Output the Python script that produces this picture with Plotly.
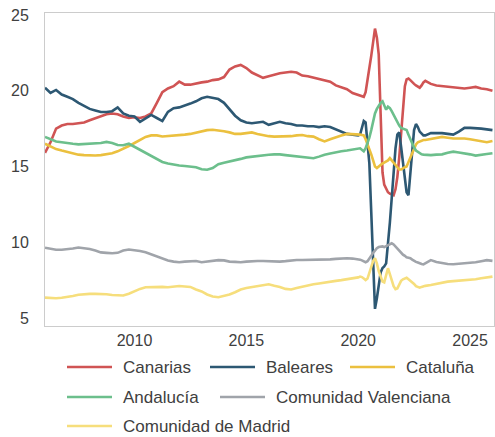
import pandas as pd
import plotly.graph_objects as go

# fechas: trimestral hasta 2019, mensual 2020-2022, trimestral después
fechas = (list(pd.date_range("2006-01-01", "2019-10-01", freq="QS"))
          + list(pd.date_range("2020-01-01", "2022-12-01", freq="MS"))
          + list(pd.date_range("2023-01-01", "2026-01-01", freq="QS")))

canarias = [15.9, 16.6, 17.5, 17.7, 17.8, 17.8, 17.85, 17.9, 18.05, 18.2, 18.35, 18.45,
            18.5, 18.45, 18.3, 18.2, 18.25, 18.2, 18.3, 18.5, 19.2, 19.9, 20.15, 20.3,
            20.6, 20.4, 20.4, 20.45, 20.55, 20.6, 20.7, 20.75, 20.9, 21.4, 21.6, 21.7,
            21.5, 21.2, 21.0, 20.85, 20.95, 21.05, 21.15, 21.2, 21.25, 21.2, 21.0, 20.95,
            20.85, 20.75, 20.65, 20.6, 20.35, 20.2, 20.1, 19.85,
            19.75, 19.7, 19.65, 19.6, 19.9, 20.6, 21.5, 22.3, 23.2, 24.1, 23.5, 22.4,
            18.5, 14.6, 13.8, 13.5, 13.3, 13.2, 13.15, 13.1, 13.5, 14.3, 15.6, 17.3,
            19.0, 20.3, 20.75, 20.8, 20.7, 20.55, 20.45, 20.35, 20.25, 20.2, 20.35, 20.55,
            20.65, 20.45, 20.35, 20.3, 20.25, 20.2, 20.15, 20.15, 20.2, 20.25, 20.15, 20.1, 20.0]

baleares = [20.2, 19.85, 20.05, 19.75, 19.6, 19.45, 19.2, 19.0, 18.8, 18.7, 18.6, 18.6,
            18.65, 18.9, 18.5, 18.35, 18.3, 17.95, 18.15, 18.4, 18.2, 18.0, 18.6, 18.85,
            18.9, 19.0, 19.15, 19.3, 19.5, 19.6, 19.55, 19.45, 19.2, 18.75, 18.35, 18.05,
            17.9, 17.85, 17.9, 17.95, 17.75, 17.85, 17.95, 17.85, 17.8, 17.7, 17.7, 17.65,
            17.65, 17.6, 17.65, 17.6, 17.45, 17.35, 17.15, 17.1,
            17.05, 17.1, 17.5, 18.0, 17.9, 16.7, 15.2, 12.0, 8.5, 5.6, 6.3, 7.3,
            8.0, 8.3, 8.4, 8.6, 9.8, 11.3, 12.9, 14.6, 16.2, 17.1, 17.25, 16.3,
            15.3, 14.0, 13.3, 13.1, 14.6, 16.3, 17.4, 17.8, 17.6, 17.3, 17.15, 17.05,
            17.05, 17.2, 17.2, 17.2, 17.15, 17.1, 17.3, 17.55, 17.55, 17.55, 17.5, 17.45, 17.4]

cataluna = [16.5, 16.3, 16.15, 16.05, 15.95, 15.85, 15.78, 15.75, 15.72, 15.72, 15.75, 15.8,
            15.87, 16.0, 16.15, 16.35, 16.55, 16.75, 16.95, 17.05, 17.05, 16.98, 17.0, 17.05,
            17.08, 17.1, 17.15, 17.25, 17.35, 17.4, 17.42, 17.38, 17.32, 17.25, 17.15, 17.15,
            17.2, 17.25, 17.15, 17.05, 17.0, 16.97, 16.97, 16.97, 17.0, 17.05, 17.08, 17.0,
            16.97, 16.8, 16.65, 16.8, 16.95, 17.05, 17.15, 17.15,
            17.12, 17.1, 17.08, 17.05, 16.8, 16.5, 16.1, 15.8, 15.4, 15.0, 14.9, 15.0,
            15.15, 15.2, 15.25, 15.3, 15.4, 15.55, 15.4, 15.2, 15.05, 14.9, 14.8, 14.8,
            14.9, 14.95, 15.0, 15.3, 15.6, 15.9, 16.2, 16.45, 16.6, 16.65, 16.7, 16.75,
            16.75, 16.8, 16.9, 16.95, 16.9, 16.85, 16.85, 16.85, 16.8, 16.75, 16.65, 16.6, 16.68]

andalucia = [16.95, 16.8, 16.65, 16.6, 16.57, 16.5, 16.46, 16.48, 16.52, 16.53, 16.55, 16.62,
             16.55, 16.42, 16.4, 16.5, 16.3, 16.1, 15.87, 15.7, 15.5, 15.3, 15.2, 15.12,
             15.06, 15.03, 15.0, 14.95, 14.82, 14.78, 14.9, 15.15, 15.25, 15.32, 15.4, 15.5,
             15.6, 15.65, 15.7, 15.75, 15.77, 15.8, 15.8, 15.75, 15.7, 15.65, 15.6, 15.56,
             15.54, 15.65, 15.78, 15.85, 15.95, 16.0, 16.05, 16.1,
             16.15, 16.2, 16.1, 16.0, 16.2, 16.5, 16.9, 17.4, 18.1, 18.5, 18.8, 19.05,
             19.2, 19.3, 19.0, 18.75, 18.95, 18.85, 18.65, 18.4, 18.15, 17.9, 17.7, 17.55,
             17.5, 17.45, 17.4, 17.1, 16.8, 16.5, 16.25, 16.05, 15.95, 15.85, 15.8, 15.78,
             15.76, 15.75, 15.78, 15.8, 15.9, 15.98, 15.92, 15.87, 15.8, 15.72, 15.75, 15.82, 15.87]

valenciana = [9.64, 9.55, 9.5, 9.5, 9.53, 9.58, 9.65, 9.62, 9.55, 9.45, 9.33, 9.3,
              9.27, 9.3, 9.45, 9.52, 9.49, 9.42, 9.34, 9.2, 9.05, 8.92, 8.8, 8.72,
              8.68, 8.72, 8.74, 8.76, 8.68, 8.72, 8.78, 8.82, 8.8, 8.72, 8.7, 8.68,
              8.72, 8.76, 8.76, 8.76, 8.74, 8.73, 8.72, 8.75, 8.8, 8.83, 8.83, 8.83,
              8.83, 8.84, 8.86, 8.87, 8.9, 8.93, 8.94, 8.92,
              8.9, 8.85, 8.8, 8.72, 8.68, 8.75, 8.9, 9.1, 9.3, 9.48, 9.6, 9.68,
              9.7, 9.72, 9.68, 9.74, 9.8, 9.88, 9.93, 9.85, 9.7, 9.58, 9.45, 9.3,
              9.18, 9.1, 9.0, 8.97, 8.94, 8.85, 8.76, 8.7, 8.66, 8.6, 8.56, 8.54,
              8.62, 8.82, 8.7, 8.62, 8.56, 8.55, 8.58, 8.6, 8.63, 8.68, 8.75, 8.82, 8.77]

madrid = [6.34, 6.32, 6.3, 6.33, 6.38, 6.45, 6.53, 6.57, 6.59, 6.59, 6.59, 6.57,
          6.52, 6.5, 6.48, 6.6, 6.78, 6.92, 7.03, 7.05, 7.07, 7.05, 7.03, 7.08,
          7.11, 7.08, 7.05, 6.88, 6.75, 6.55, 6.42, 6.37, 6.45, 6.55, 6.7, 6.88,
          6.98, 7.05, 7.12, 7.18, 7.22, 7.12, 7.05, 6.92, 6.88, 6.98, 7.07, 7.12,
          7.22, 7.28, 7.35, 7.4, 7.45, 7.5, 7.55, 7.62,
          7.68, 7.73, 7.7, 7.6, 7.5, 7.6, 8.0, 8.5, 8.75, 8.95, 8.6, 8.1,
          7.8, 7.4, 7.35, 7.9, 8.28, 7.9, 7.45, 7.1, 6.9, 6.95, 7.2, 7.45,
          7.55, 7.62, 7.65, 7.55, 7.45, 7.38, 7.25, 7.1, 7.02, 7.0, 7.05, 7.1,
          7.12, 7.18, 7.25, 7.35, 7.4, 7.43, 7.45, 7.48, 7.51, 7.56, 7.62, 7.68, 7.73]

nombres = ["Canarias", "Baleares", "Cataluña", "Andalucía",
           "Comunidad Valenciana", "Comunidad de Madrid"]
series = [canarias, baleares, cataluna, andalucia, valenciana, madrid]
colores = ["#d05454", "#2d5873", "#ebc03f", "#6cbf8c", "#a0a4aa", "#f6de7c"]

W, H = 495, 437
ML, MR, MT, MB = 45, 1, 13, 111
pw, ph = W - ML - MR, H - MT - MB

fig = go.Figure()
for nombre, ys, col in zip(nombres, series, colores):
    fig.add_trace(go.Scatter(x=fechas, y=ys, name=nombre, mode="lines",
                             line=dict(color=col, width=2.6), showlegend=False))

# leyenda dibujada a mano (línea larga + texto), posiciones en píxeles
leyenda = [(0, 67, 367), (1, 210, 367), (2, 350, 367),
           (3, 67, 397), (4, 220, 397), (5, 67, 426)]
for i, x0, y in leyenda:
    fig.add_shape(type="line", xref="paper", yref="paper",
                  x0=(x0 - ML) / pw, x1=(x0 + 45 - ML) / pw,
                  y0=(MT + ph - y) / ph, y1=(MT + ph - y) / ph,
                  line=dict(color=colores[i], width=2.6))
    fig.add_annotation(text=nombres[i], xref="paper", yref="paper",
                       x=(x0 + 54 - ML) / pw, y=(MT + ph - y) / ph,
                       xanchor="left", yanchor="middle", showarrow=False,
                       font=dict(size=17, color="#404040"))

fig.update_xaxes(range=["2006-01-01", "2026-01-26"], type="date",
                 tickvals=["2010-01-01", "2015-01-01", "2020-01-01", "2025-01-01"],
                 ticktext=["2010", "2015", "2020", "2025"],
                 showgrid=False, zeroline=False, showline=True, mirror=True,
                 linecolor="#cccccc", linewidth=1, ticks="",
                 tickfont=dict(size=16, color="#404040"))
fig.update_yaxes(range=[4.47, 25.13], tickvals=[5, 10, 15, 20, 25],
                 showgrid=False, zeroline=False, showline=True, mirror=True,
                 linecolor="#cccccc", linewidth=1, ticks="", ticklabelstandoff=12,
                 tickfont=dict(size=16, color="#404040"))
fig.update_layout(width=W, height=H, margin=dict(l=ML, r=MR, t=MT, b=MB),
                  plot_bgcolor="white", paper_bgcolor="white",
                  font=dict(family="Liberation Sans, Arial, sans-serif"),
                  showlegend=False)
fig.write_html("out.html", config={"displayModeBar": False},
               post_script="document.body.style.margin = '0';")
